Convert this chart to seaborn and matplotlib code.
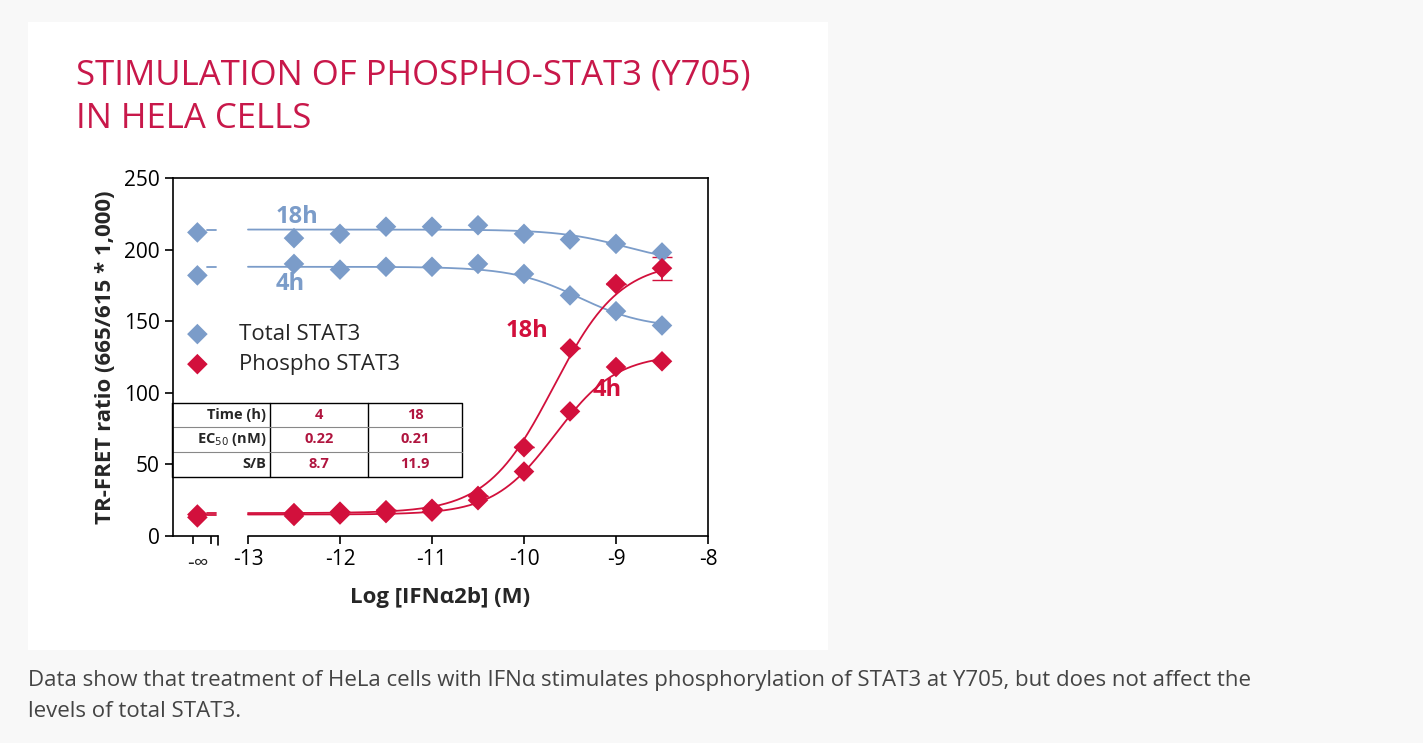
import numpy as np
import matplotlib
matplotlib.use("Agg")
import matplotlib.pyplot as plt
import seaborn as sns

sns.set_style("white")
plt.rcParams['font.family'] = ['Open Sans', 'DejaVu Sans']

# data
log_conc = [-12.5, -12, -11.5, -11, -10.5, -10, -9.5, -9, -8.5]
x_inf = -13.55
total_18h = [208, 211, 216, 216, 217, 211, 207, 204, 198]
total_18h_inf = 212
total_4h = [190, 186, 188, 188, 190, 183, 168, 157, 147]
total_4h_inf = 182
phospho_18h = [16, 17, 18, 19, 28, 62, 131, 176, 187]
phospho_18h_inf = 15
phospho_18h_err = [0, 0, 0, 0, 0, 0, 0, 0, 8]
phospho_4h = [14, 15, 16, 17, 25, 45, 87, 118, 122]
phospho_4h_inf = 13

# 4PL fit parameters: bottom, top, logEC50, hill
fit_params = {
    'total_18h': (190, 214, -8.9, -1.2),
    'total_4h': (145, 188, -9.4, -1.2),
    'phospho_18h': (16, 192, -9.68, 1.2),
    'phospho_4h': (15, 127, -9.66, 1.3),
}

table_rows = [['Time (h)', '4', '18'], ['EC$_{50}$ (nM)', '0.22', '0.21'], ['S/B', '8.7', '11.9']]

blue = '#7b9cc9'
red = '#d2103c'
title_col = '#c8184a'


def four_pl(x, bottom, top, ec50, hill):
    return bottom + (top - bottom) / (1 + 10 ** (hill * (ec50 - x)))


fig = plt.figure(figsize=(14.23, 7.43), dpi=100)
fig.patch.set_facecolor('#f8f8f8')
fig.patches.append(plt.Rectangle((28 / 1423, 1 - 650 / 743), 800 / 1423, 628 / 743,
                                 transform=fig.transFigure, facecolor='white', edgecolor='none', zorder=-10))
ax = fig.add_axes([173 / 1423, 1 - 536 / 743, 535 / 1423, 358 / 743])
ax.set_zorder(5)
ax.set_facecolor('white')

xs = np.linspace(-13, -8.5, 300)
series = [('total_18h', total_18h, total_18h_inf, blue),
          ('total_4h', total_4h, total_4h_inf, blue),
          ('phospho_18h', phospho_18h, phospho_18h_inf, red),
          ('phospho_4h', phospho_4h, phospho_4h_inf, red)]
for key, vals, vinf, col in series:
    p = fit_params[key]
    sns.lineplot(x=xs, y=four_pl(xs, *p), color=col, lw=1.3, ax=ax)
    lo = four_pl(-14, *p)
    ax.plot([-13.45, -13.35], [lo, lo], color=col, lw=1.3)
    sns.scatterplot(x=log_conc + [x_inf], y=vals + [vinf], marker='D', s=110,
                    color=col, edgecolor='none', ax=ax, zorder=5)

ax.errorbar(log_conc, phospho_18h, yerr=phospho_18h_err, fmt='none', ecolor=red,
            capsize=7, lw=1.3, zorder=4)

ax.set_xlim(-13.815, -8)
ax.set_ylim(0, 250)
for s in ax.spines.values():
    s.set_color('black')
    s.set_linewidth(1.2)
ax.spines['bottom'].set_visible(False)
ax.plot([-13.815, -13.33], [0, 0], color='black', lw=1.2, clip_on=False)
ax.plot([-13.0, -8], [0, 0], color='black', lw=1.2, clip_on=False)
ax.set_xticks([-13.6, -13.4, -13, -12, -11, -10, -9, -8])
ax.set_xticklabels(['', '', '-13', '-12', '-11', '-10', '-9', '-8'])
ax.text(-13.55, -12, '-∞', ha='center', va='top', fontsize=15)
ax.plot([-13.33, -13.33], [0, -6], color='black', lw=1.2, clip_on=False)
ax.tick_params(axis='both', direction='out', length=6, width=1.2, labelsize=15,
               bottom=True, left=True, colors='black')
ax.set_yticks([0, 50, 100, 150, 200, 250])
ax.set_xlabel('Log [IFNα2b] (M)', fontsize=16, fontweight='bold', labelpad=12)
ax.set_ylabel('TR-FRET ratio (665/615 * 1,000)', fontsize=16, fontweight='bold', labelpad=6)

# curve labels
ax.text(-12.7, 223, '18h', color=blue, fontsize=17, fontweight='bold', va='center')
ax.text(-12.7, 176, '4h', color=blue, fontsize=17, fontweight='bold', va='center')
ax.text(-10.2, 143, '18h', color=red, fontsize=17, fontweight='bold', va='center')
ax.text(-9.25, 102, '4h', color=red, fontsize=17, fontweight='bold', va='center')

# legend
ax.scatter([-13.55], [141], marker='D', s=110, color=blue, edgecolor='none')
ax.scatter([-13.55], [120], marker='D', s=110, color=red, edgecolor='none')
ax.text(-13.1, 141, 'Total STAT3', fontsize=16, va='center')
ax.text(-13.1, 120, 'Phospho STAT3', fontsize=16, va='center')

# table
tx = [-13.83, -12.76, -11.70, -10.67]
ty = [92.9, 76.1, 58.7, 41.2]
ax.plot([tx[0], tx[3], tx[3], tx[0], tx[0]], [ty[0], ty[0], ty[3], ty[3], ty[0]], color='black', lw=1, clip_on=False)
for xv in tx[1:3]:
    ax.plot([xv, xv], [ty[0], ty[3]], color='black', lw=1)
for yv in ty[1:3]:
    ax.plot([tx[0], tx[3]], [yv, yv], color='#888888', lw=0.8)
for i, row in enumerate(table_rows):
    yc = (ty[i] + ty[i + 1]) / 2
    ax.text(tx[1] - 0.04, yc, row[0], ha='right', va='center', fontsize=10.5, fontweight='bold')
    ax.text((tx[1] + tx[2]) / 2, yc, row[1], ha='center', va='center', fontsize=10.5, fontweight='bold', color='#b0153f')
    ax.text((tx[2] + tx[3]) / 2, yc, row[2], ha='center', va='center', fontsize=10.5, fontweight='bold', color='#b0153f')

fig.text(76 / 1423, 1 - 97 / 743, 'STIMULATION OF PHOSPHO-STAT3 (Y705)\nIN HELA CELLS', color=title_col,
         fontsize=25, va='center', ha='left', linespacing=1.35)
fig.text(28 / 1423, 1 - 696 / 743,
         'Data show that treatment of HeLa cells with IFNα stimulates phosphorylation of STAT3 at Y705, but does not affect the\nlevels of total STAT3.',
         color='#444444', fontsize=16, va='center', ha='left', linespacing=1.6)

fig.savefig('out.png', dpi=100, facecolor=fig.get_facecolor())
